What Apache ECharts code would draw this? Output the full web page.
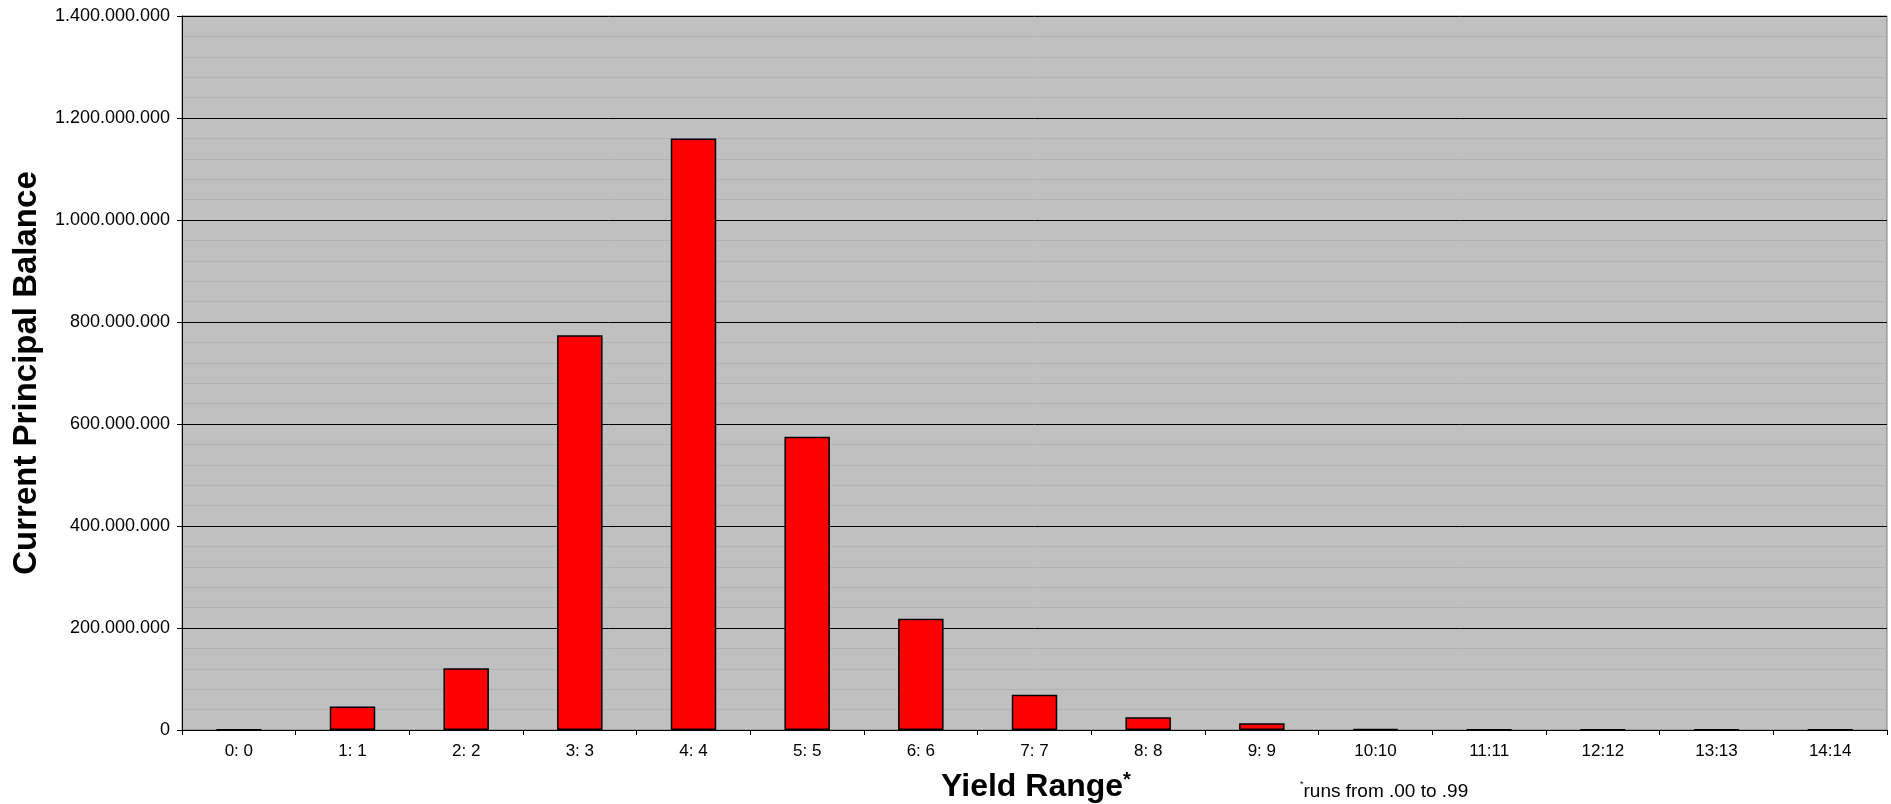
<!DOCTYPE html>
<html>
<head>
<meta charset="utf-8">
<style>
  html, body { margin: 0; padding: 0; background: #ffffff; }
  #chart { width: 1891px; height: 804px; }
</style>
<script src="https://cdn.jsdelivr.net/npm/echarts@6/dist/echarts.min.js"></script>
</head>
<body>
<div id="chart"></div>
<script>
// Yield range buckets
const categories = ['0: 0', '1: 1', '2: 2', '3: 3', '4: 4', '5: 5', '6: 6', '7: 7',
  '8: 8', '9: 9', '10:10', '11:11', '12:12', '13:13', '14:14'];

// Current principal balance per bucket
const balances = [1000000, 46000000, 121000000, 774000000, 1160000000, 575000000,
  218000000, 69000000, 25000000, 13000000, 2000000, 1000000, 1000000, 1000000, 1000000];

// Value axis range and step
const yMin = 0;
const yMax = 1400000000;
const yStep = 200000000;

const fontFamily = 'Arial, "Liberation Sans", Helvetica, sans-serif';

function dotted(v) {
  return String(Math.round(v)).replace(/\B(?=(\d{3})+(?!\d))/g, '.');
}

const chart = echarts.init(document.getElementById('chart'), null, { renderer: 'canvas' });

chart.setOption({
  animation: false,
  backgroundColor: '#ffffff',
  grid: {
    left: 182, right: 4, top: 16, bottom: 74,
    containLabel: false,
    show: true,
    backgroundColor: '#c0c0c0',
    borderColor: '#808080',
    borderWidth: 1
  },
  xAxis: {
    type: 'category',
    data: categories,
    boundaryGap: true,
    axisLine: { show: true, lineStyle: { color: '#000000', width: 1 } },
    axisTick: { show: true, alignWithLabel: false, length: 5, lineStyle: { color: '#000000' } },
    axisLabel: { color: '#000000', fontFamily: fontFamily, fontSize: 17, margin: 13, interval: 0 },
    splitLine: { show: false }
  },
  yAxis: {
    type: 'value',
    min: yMin,
    max: yMax,
    interval: yStep,
    axisLine: { show: true, lineStyle: { color: '#000000', width: 1 } },
    axisTick: { show: true, length: 5, lineStyle: { color: '#000000' } },
    axisLabel: { color: '#000000', fontFamily: fontFamily, fontSize: 18, margin: 12, formatter: dotted },
    splitLine: { show: true, lineStyle: { color: '#000000', width: 1 } },
    minorTick: { show: false, splitNumber: 5 },
    minorSplitLine: { show: true, lineStyle: { color: '#b2b2b2', width: 1 } }
  },
  series: [{
    type: 'bar',
    data: balances,
    barWidth: '40%',
    itemStyle: { color: '#ff0000', borderColor: '#000000', borderWidth: 1.5 }
  }],
  graphic: [
    {
      type: 'text',
      x: 27, y: 373,
      rotation: Math.PI / 2,
      style: {
        text: 'Current Principal Balance',
        font: 'bold 33px ' + fontFamily,
        fill: '#000000',
        textAlign: 'center',
        textVerticalAlign: 'middle'
      }
    },
    {
      type: 'text',
      x: 1036, y: 787,
      style: {
        text: 'Yield Range{sup|*}',
        font: 'bold 32px ' + fontFamily,
        fill: '#000000',
        textAlign: 'center',
        textVerticalAlign: 'middle',
        rich: {
          sup: { font: 'bold 20px ' + fontFamily, fill: '#000000', verticalAlign: 'top', padding: [0, 0, 14, 0] }
        }
      }
    },
    {
      type: 'text',
      x: 1300, y: 792,
      style: {
        text: '{star|*}runs from .00 to .99',
        font: '19px ' + fontFamily,
        fill: '#000000',
        textAlign: 'left',
        textVerticalAlign: 'middle',
        rich: {
          star: { font: '9px ' + fontFamily, fill: '#000000', padding: [0, 0, 14, 0] }
        }
      }
    }
  ]
});
</script>
</body>
</html>
